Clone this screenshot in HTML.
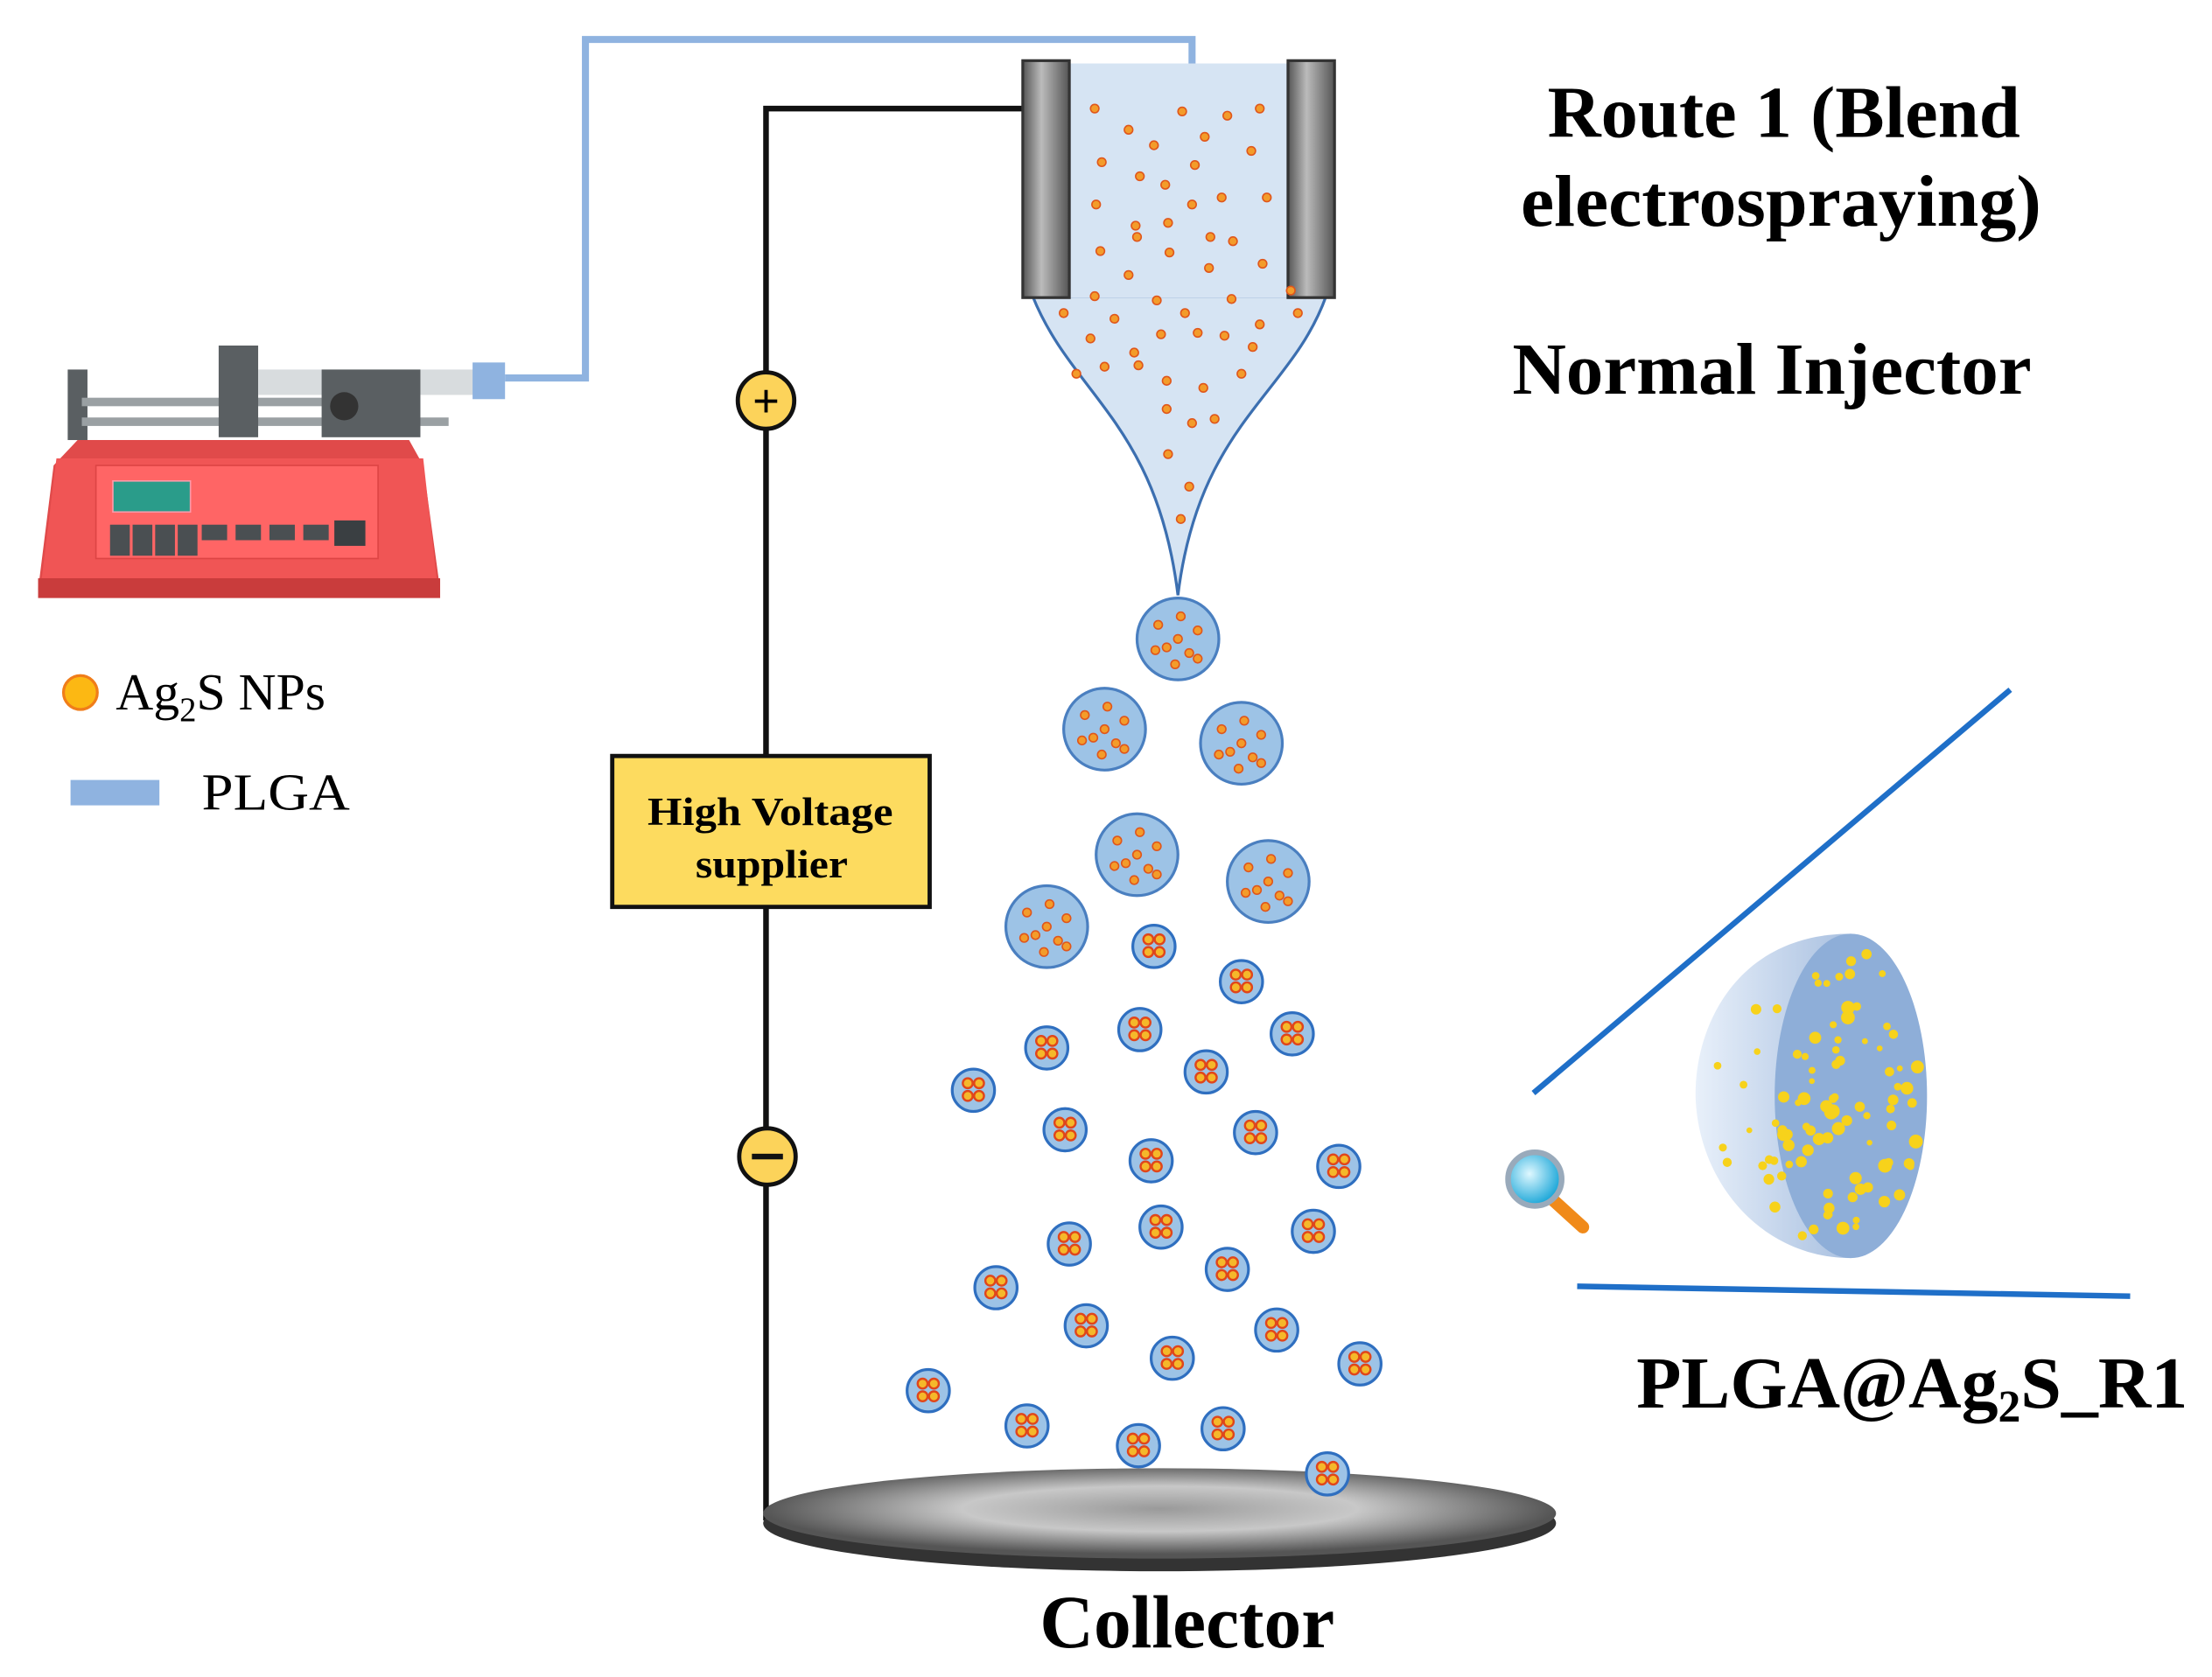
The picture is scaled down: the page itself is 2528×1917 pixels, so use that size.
<!DOCTYPE html>
<html><head><meta charset="utf-8"><style>
html,body{margin:0;padding:0;background:#fff;}
svg{display:block;}
text{font-family:"Liberation Serif",serif;}
</style></head><body>
<svg id="s" width="2528" height="1917" viewBox="0 0 1568 1189" preserveAspectRatio="none" xmlns="http://www.w3.org/2000/svg">
<defs>
<radialGradient id="col" cx="50%" cy="45%" r="50%"><stop offset="0" stop-color="#9a9a9a"/><stop offset="0.5" stop-color="#c8c8c8"/><stop offset="1" stop-color="#555"/></radialGradient>
<linearGradient id="bar" x1="0" x2="1"><stop offset="0" stop-color="#555"/><stop offset="0.4" stop-color="#bbb"/><stop offset="1" stop-color="#555"/></linearGradient>
<linearGradient id="dome" x1="0" x2="1"><stop offset="0" stop-color="#e8f0fa"/><stop offset="1" stop-color="#a9c0e0"/></linearGradient>
<radialGradient id="mag" cx="40%" cy="40%" r="60%"><stop offset="0" stop-color="#dff8ff"/><stop offset="1" stop-color="#1aa6d8"/></radialGradient>
</defs>
<polyline points="358,268 415,268 415,28 845,28 845,46" fill="none" stroke="#8fb3e0" stroke-width="5"/>
<polyline points="726,77 543,77 543,1078" fill="none" stroke="#111" stroke-width="4"/>
<circle cx="543" cy="284" r="20" fill="#fcd35a" stroke="#111" stroke-width="3"/>
<text x="543" y="296" font-size="34" font-weight="bold" text-anchor="middle">+</text>
<circle cx="544" cy="820" r="20" fill="#fcd35a" stroke="#111" stroke-width="3"/>
<rect x="533" y="818" width="22" height="4" fill="#111"/>
<rect x="434" y="536" width="225" height="107" fill="#fddb5f" stroke="#111" stroke-width="3"/>
<text x="459" y="585" font-size="28" font-weight="bold" textLength="174" lengthAdjust="spacingAndGlyphs">High Voltage</text>
<text x="493" y="622" font-size="28" font-weight="bold" textLength="108" lengthAdjust="spacingAndGlyphs">supplier</text>
<path d="M732,210 C760,280 820,300 835,422 C850,300 915,280 940,210 Z" fill="#d6e4f3" stroke="#3c6fb0" stroke-width="2"/>
<rect x="752" y="45" width="166" height="166" fill="#d6e4f3"/>
<rect x="725" y="43" width="33" height="168" fill="url(#bar)" stroke="#333" stroke-width="2"/>
<rect x="913" y="43" width="33" height="168" fill="url(#bar)" stroke="#333" stroke-width="2"/>
<g id="ndots" fill="#f39c2a" stroke="#e0561b" stroke-width="1"></g>
<ellipse cx="822" cy="1080" rx="281" ry="34" fill="#333"/>
<ellipse cx="822" cy="1073" rx="281" ry="32" fill="url(#col)"/>
<g id="drops"></g>
<text x="1097" y="97" font-size="52" font-weight="bold" textLength="335" lengthAdjust="spacingAndGlyphs">Route 1 (Blend</text>
<text x="1078" y="160" font-size="52" font-weight="bold" textLength="369" lengthAdjust="spacingAndGlyphs">electrospraying)</text>
<text x="1072" y="279" font-size="52" font-weight="bold" textLength="368" lengthAdjust="spacingAndGlyphs">Normal Injector</text>
<text x="737" y="1168" font-size="53" font-weight="bold" textLength="209" lengthAdjust="spacingAndGlyphs">Collector</text>
<text x="1160" y="998" font-size="52" font-weight="bold">PLGA@Ag<tspan font-size="32" dy="10">2</tspan><tspan dy="-10">S_R1</tspan></text>
<circle cx="57" cy="491" r="12" fill="#fcb813" stroke="#f07d1a" stroke-width="2"/>
<text x="82" y="503" font-size="37">Ag<tspan font-size="24" dy="8">2</tspan><tspan dy="-8">S NPs</tspan></text>
<rect x="50" y="553" width="63" height="18" fill="#8fb3e0"/>
<text x="143" y="574" font-size="37" textLength="105" lengthAdjust="spacingAndGlyphs">PLGA</text>
<line x1="1087" y1="775" x2="1425" y2="489" stroke="#1f6fc8" stroke-width="4"/>
<line x1="1118" y1="912" x2="1510" y2="919" stroke="#1f6fc8" stroke-width="4"/>
<line x1="1100" y1="850" x2="1122" y2="870" stroke="#f08a1a" stroke-width="9" stroke-linecap="round"/>
<circle cx="1088" cy="836" r="19" fill="url(#mag)" stroke="#9ab" stroke-width="4"/>
<path d="M1312,662 C1230,662 1200,730 1202,780 C1205,840 1250,892 1312,892 Z" fill="url(#dome)"/>
<ellipse cx="1312" cy="777" rx="54" ry="115" fill="#8eaed8"/>
<g id="ydots" fill="#f7d21b"></g>
<g>
<rect x="48" y="262" width="14" height="50" fill="#5a5f62"/>
<rect x="58" y="282" width="200" height="6" fill="#9aa0a3"/>
<rect x="58" y="296" width="260" height="6" fill="#9aa0a3"/>
<rect x="155" y="245" width="28" height="65" fill="#5a5f62"/>
<rect x="183" y="262" width="160" height="18" fill="#d8dcde"/>
<rect x="228" y="262" width="70" height="48" fill="#5a5f62"/>
<circle cx="244" cy="288" r="10" fill="#333"/>
<rect x="335" y="257" width="23" height="26" fill="#8fb3e0"/>
<polygon points="55,312 290,312 300,330 312,418 27,418 38,330" fill="#e04a4a"/>
<polygon points="40,325 300,325 310,415 29,415" fill="#f05555"/>
<rect x="27" y="410" width="285" height="14" fill="#c93c3c"/>
<rect x="68" y="330" width="200" height="66" fill="#ff6565" stroke="#d44" stroke-width="1"/>
<rect x="80" y="341" width="55" height="22" fill="#2a9c8a" stroke="#f9a" stroke-width="1"/>
<rect x="78" y="372" width="14" height="22" fill="#4a4f52"/><rect x="94" y="372" width="14" height="22" fill="#4a4f52"/><rect x="110" y="372" width="14" height="22" fill="#4a4f52"/><rect x="126" y="372" width="14" height="22" fill="#4a4f52"/>
<rect x="143" y="372" width="18" height="11" fill="#4a4f52"/><rect x="167" y="372" width="18" height="11" fill="#4a4f52"/><rect x="191" y="372" width="18" height="11" fill="#4a4f52"/><rect x="215" y="372" width="18" height="11" fill="#4a4f52"/><rect x="237" y="369" width="22" height="18" fill="#3a3f42"/>
</g>
<script>
var NS="http://www.w3.org/2000/svg";
function c(g,x,y,r,a){var e=document.createElementNS(NS,"circle");e.setAttribute("cx",x);e.setAttribute("cy",y);e.setAttribute("r",r);for(var k in a)e.setAttribute(k,a[k]);g.appendChild(e);}
var nd=document.getElementById("ndots");
var pts=[[776,77],[800,92],[838,79],[870,82],[893,77],[818,103],[854,97],[781,115],[847,117],[887,107],[808,125],[826,131],[866,140],[777,145],[805,160],[845,145],[898,140],[828,158],[858,168],[806,168],[780,178],[874,171],[829,179],[800,195],[857,190],[895,187],[776,210],[820,213],[873,212],[915,206],[754,222],[790,226],[840,222],[893,230],[920,222],[773,240],[823,237],[849,236],[868,238],[888,246],[783,260],[807,259],[827,270],[853,275],[880,265],[845,300],[827,290],[861,297],[828,322],[843,345],[837,368],[804,250],[763,265]];
pts.forEach(function(p){c(nd,p[0],p[1],3,{});});
var dr=document.getElementById("drops");
var big=[[835,453],[783,517],[880,527],[806,606],[899,625],[742,657]];
big.forEach(function(b){c(dr,b[0],b[1],29,{fill:"#9dc3e6",stroke:"#4a7fc0","stroke-width":2});
 [[-14,-10],[2,-16],[14,-6],[-8,6],[8,10],[0,0],[-16,8],[14,14],[-2,18]].forEach(function(o){c(dr,b[0]+o[0],b[1]+o[1],3,{fill:"#f39c2a",stroke:"#e0561b","stroke-width":1});});});
var sm=[[818,671],[880,696],[742,743],[808,730],[916,733],[690,773],[855,760],[755,801],[890,803],[816,823],[949,827],[758,882],[823,870],[931,873],[870,900],[706,913],[770,940],[905,943],[831,963],[964,967],[658,986],[728,1011],[807,1025],[867,1013],[941,1045]];
sm.forEach(function(b){c(dr,b[0],b[1],15,{fill:"#9dc3e6",stroke:"#2f6fc0","stroke-width":2});
 [[-4,-5],[4,-5],[-4,4],[4,4]].forEach(function(o){c(dr,b[0]+o[0],b[1]+o[1],3.5,{fill:"#f5b82a",stroke:"#e0461b","stroke-width":1.5});});});
var yd=document.getElementById("ydots");
var seed=7;function rnd(){seed=(seed*9301+49297)%233280;return seed/233280;}
for(var i=0;i<70;i++){var t=rnd()*2*Math.PI,r=Math.sqrt(rnd());c(yd,1312+50*r*Math.cos(t),777+108*r*Math.sin(t),2+rnd()*3,{});}
for(var i=0;i<25;i++){var t=Math.PI/2+rnd()*Math.PI;c(yd,1312+100*Math.cos(t)*(0.5+rnd()*0.5),777+110*Math.sin(t)*(0.6+rnd()*0.4),2+rnd()*2,{});}
</script>
</svg>
</body></html>
